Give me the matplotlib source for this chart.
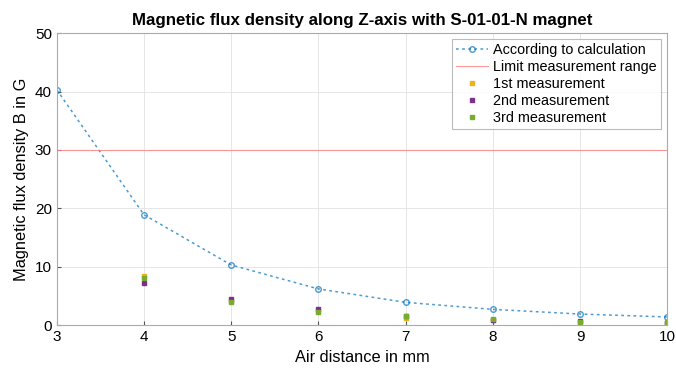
import matplotlib
matplotlib.use("Agg")
import matplotlib.pyplot as plt

plt.rcParams['font.family'] = ['Liberation Sans', 'DejaVu Sans']

# data
distance = [3, 4, 5, 6, 7, 8, 9, 10]
calculated = [40.3, 18.9, 10.3, 6.2, 3.9, 2.7, 1.9, 1.4]
limit = 30

meas_x = [4, 5, 6, 7, 8, 9, 10]
meas_1 = [8.4, 4.2, 2.5, 1.3, 0.9, 0.6, 0.4]
meas_2 = [7.2, 4.5, 2.8, 1.5, 0.9, 0.7, 0.4]
meas_3 = [8.1, 4.0, 2.3, 1.6, 1.0, 0.6, 0.5]

fig = plt.figure(figsize=(6.76, 3.72), dpi=100)
ax = fig.add_axes([0.084, 0.126, 0.903, 0.785])

ax.plot(distance, calculated, linestyle=(0, (1.8, 2.2)), color="#0072BD", alpha=0.7,
        linewidth=1.1, marker="o", markersize=4, markerfacecolor="none",
        markeredgewidth=1.0, label="According to calculation")
ax.axhline(limit, color="#FF8080", linewidth=0.8, alpha=0.8, label="Limit measurement range")
ax.plot(meas_x, meas_1, linestyle="none", marker="s", markersize=2.5, color="#EDB120",
        label="1st measurement")
ax.plot(meas_x, meas_2, linestyle="none", marker="s", markersize=2.5, color="#7E2F8E",
        label="2nd measurement")
ax.plot(meas_x, meas_3, linestyle="none", marker="s", markersize=2.5, color="#77AC30",
        label="3rd measurement")

ax.set_xlim(3, 10)
ax.set_ylim(0, 50)
ax.set_xticks(range(3, 11))
ax.set_yticks(range(0, 51, 10))
ax.grid(True, color="#E6E6E6", linewidth=0.7)
ax.set_axisbelow(True)
ax.tick_params(direction="in", labelsize=11, length=3, color="#555555")
for s in ax.spines.values():
    s.set_color("#AAAAAA")

ax.set_xlabel("Air distance in mm", fontsize=11.8)
ax.set_ylabel("Magnetic flux density B in G", fontsize=11.8)
ax.set_title("Magnetic flux density along Z-axis with S-01-01-N magnet",
             fontsize=12.2, fontweight="bold")

leg = ax.legend(loc="upper right", fontsize=10.4, frameon=True, fancybox=False,
                edgecolor="#AAAAAA", borderpad=0.3, labelspacing=0.2,
                handlelength=2.2, handletextpad=0.4, borderaxespad=0.4)
leg.get_frame().set_linewidth(0.8)

fig.savefig("out.png", dpi=100)
